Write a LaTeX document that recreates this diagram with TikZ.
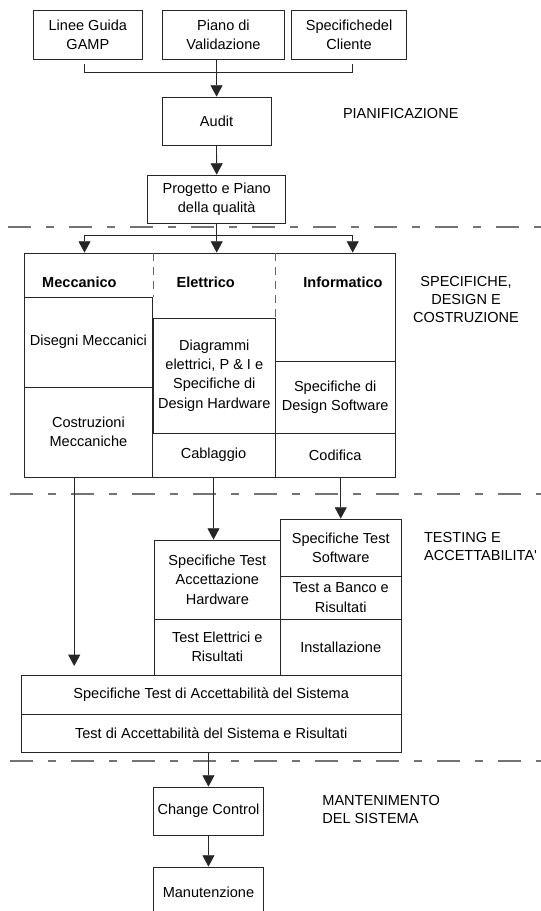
\documentclass[tikz,border=0pt]{standalone}
\usepackage{fontspec}
\setmainfont{Liberation Sans}
\usetikzlibrary{arrows.meta}
\newcommand{\diagfont}{\fontsize{10.9}{14.5}\selectfont}

\begin{document}
\begin{tikzpicture}[x=0.75pt,y=-0.75pt,font=\diagfont,line width=0.6pt,
    box/.style={draw=black!85,inner sep=0pt,align=center},
    cell/.style n args={4}{box,minimum width={(#3-#1)*0.75pt},minimum height={(#4-#2)*0.75pt},
      at={({(#1+#3)/2},{(#2+#4)/2})}},
    hdr/.style={font=\diagfont\bfseries},
    arr/.style={draw=black!85,-{Triangle[width=9pt,length=8.5pt]}},
    sep/.style={draw=black!55,line width=1pt,dash pattern=on 17.25pt off 11.25pt on 6pt off 11.25pt},
    dsh/.style={draw=black!60,dash pattern=on 6pt off 4.5pt},
    phase/.style={font=\fontsize{10.9}{13.5}\selectfont,inner sep=0pt}]

\useasboundingbox (0,0) rectangle (541,911);

% pianificazione
\node[cell={33.5}{10}{142.2}{59}] (linee) {Linee Guida\\GAMP};
\node[cell={162.2}{10}{284.7}{59}] (piano) {Piano di\\Validazione};
\node[cell={291.6}{10}{406.5}{59}] (cliente) {Specifichedel\\Cliente};
\node[cell={162.2}{97}{270.9}{145}] (audit) {Audit};
\node[cell={147.7}{175}{285.7}{223}] (prog) {Progetto e Piano\\della qualità};

% specifiche, design e costruzione
\node[cell={24.8}{253}{395.4}{477}] (big) {};
\node[hdr] (mecc) at (79.4,282) {Meccanico};
\node[hdr] (elet) at (205.7,282) {Elettrico};
\node[hdr] (info) at (343,282) {Informatico};
\node[cell={24.8}{297}{152}{387}] (dis) {Disegni Meccanici};
\node[cell={24.8}{387}{152}{477}] (costr) {Costruzioni\\Meccaniche};
\node[cell={153.6}{318}{275}{433}] (diag) {Diagrammi\\elettrici, P \& I e\\Specifiche di\\Design Hardware};
\node[cell={152}{433}{275}{477}] (cabl) {Cablaggio};
\node[cell={275}{361}{395.4}{433}] (dsw) {Specifiche di\\Design Software};
\node[cell={275}{433}{395.4}{477}] (cod) {Codifica};
\draw[dsh] (big.north -| diag.west) -- (dis.north -| diag.west);
\draw[dsh] (big.north -| diag.east) -- (diag.north east);

% testing e accettabilita'
\node[cell={154.2}{540}{280.5}{619}] (hwspec) {Specifiche Test\\Accettazione\\Hardware};
\node[cell={154.2}{619}{280.5}{675}] (hwtest) {Test Elettrici e\\Risultati};
\node[cell={280.5}{519}{401}{576}] (swspec) {Specifiche Test\\Software};
\node[cell={280.5}{576}{401}{619}] (swtest) {Test a Banco e\\Risultati};
\node[cell={280.5}{619}{401}{675}] (inst) {Installazione};
\node[cell={21.4}{675}{401}{714}] (sysspec) {Specifiche Test di Accettabilità del Sistema};
\node[cell={21.4}{714}{401}{752}] (systest) {Test di Accettabilità del Sistema e Risultati};

% mantenimento
\node[cell={153.6}{787}{263.3}{835}] (cc) {Change Control};
\node[cell={153.6}{867}{263.3}{918}] (manut) {Manutenzione};

% fasi
\node[phase,anchor=west] (pian) at (342.6,113) {PIANIFICAZIONE};
\node[phase,align=center] (spec) at (466,299) {SPECIFICHE,\\DESIGN E\\COSTRUZIONE};
\node[phase,align=left,anchor=west] (test) at (423.7,546) {TESTING E\\ACCETTABILITA\textquotesingle};
\node[phase,align=left,anchor=west] (mant) at (322,809) {MANTENIMENTO\\DEL SISTEMA};

\draw[sep] (8,227) -- (541,227);
\draw[sep] (10,494) -- (541,494);
\draw[sep] (10,761) -- (541,761);

% collegamenti
\coordinate (bl) at (84.5,72);
\coordinate (br) at (352.7,72);
\draw[draw=black!85] (bl) ++(0,-8) -- (bl) -- (br) -- ++(0,-8);
\draw[arr] (piano.south -| audit.north) -- (audit.north);
\draw[arr] (audit.south) -- (prog.north);
\path (prog.south) ++(0,12) coordinate (jn);
\draw[arr] (prog.south) -- (big.north -| prog.south);
\draw[arr] (jn) -| (big.north -| bl);
\draw[arr] (jn) -| (big.north -| br);

\coordinate (mtip) at (74.2,666);
\draw[arr] (costr.south -| mtip) -- (mtip);
\draw[arr] (cabl.south) -- (cabl.south |- hwspec.north);
\draw[arr] (cod.south -| swspec.north) -- (swspec.north);
\draw[arr] (systest.south -| cc.north) -- (cc.north);
\draw[arr] (cc) -- (manut);

\end{tikzpicture}
\end{document}
